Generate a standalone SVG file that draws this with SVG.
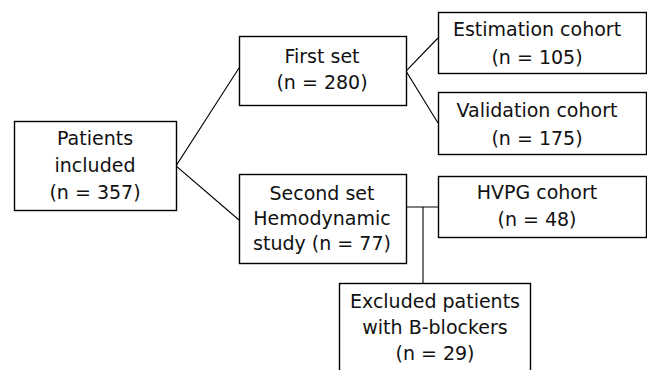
<svg xmlns="http://www.w3.org/2000/svg" width="647" height="370" viewBox="0 0 647 370">
<style>
.box{fill:#fff;stroke:#000;stroke-width:1.4}
.t{font-family:"DejaVu Sans",sans-serif;font-size:19px;fill:#111;text-anchor:middle}
.c{fill:none;stroke:#000;stroke-width:1.1}
</style>
<rect width="647" height="370" fill="#fff"/>
<g id="connectors">
<polyline class="c" points="239,68 176,166 239,220"/>
<polyline class="c" points="438,38 406,71 438,123"/>
<line class="c" x1="406" y1="207" x2="439" y2="207"/>
<line class="c" x1="423" y1="207" x2="423" y2="284"/>
</g>
<g id="patients">
<rect class="box" x="14.5" y="121.5" width="162" height="89"/>
<text class="t" x="95" y="145">Patients</text>
<text class="t" x="95" y="172">included</text>
<text class="t" x="95" y="199">(n = 357)</text>
</g>
<g id="firstset">
<rect class="box" x="239.5" y="36.5" width="167" height="69"/>
<text class="t" x="322" y="63">First set</text>
<text class="t" x="322" y="89">(n = 280)</text>
</g>
<g id="estimation">
<rect class="box" x="438.5" y="12.5" width="208" height="61"/>
<text class="t" x="537" y="36">Estimation cohort</text>
<text class="t" x="537" y="64">(n = 105)</text>
</g>
<g id="validation">
<rect class="box" x="438.5" y="92.5" width="208" height="62"/>
<text class="t" x="537" y="117">Validation cohort</text>
<text class="t" x="537" y="145">(n = 175)</text>
</g>
<g id="secondset">
<rect class="box" x="239.5" y="174.5" width="167" height="89"/>
<text class="t" x="322" y="200">Second set</text>
<text class="t" x="322" y="225">Hemodynamic</text>
<text class="t" x="322" y="250">study (n = 77)</text>
</g>
<g id="hvpg">
<rect class="box" x="438.5" y="176.5" width="208" height="61"/>
<text class="t" x="537" y="199">HVPG cohort</text>
<text class="t" x="537" y="226">(n = 48)</text>
</g>
<g id="excluded">
<rect class="box" x="339.5" y="283.5" width="191" height="95"/>
<text class="t" x="435" y="308">Excluded patients</text>
<text class="t" x="435" y="334">with B-blockers</text>
<text class="t" x="435" y="360">(n = 29)</text>
</g>
</svg>
